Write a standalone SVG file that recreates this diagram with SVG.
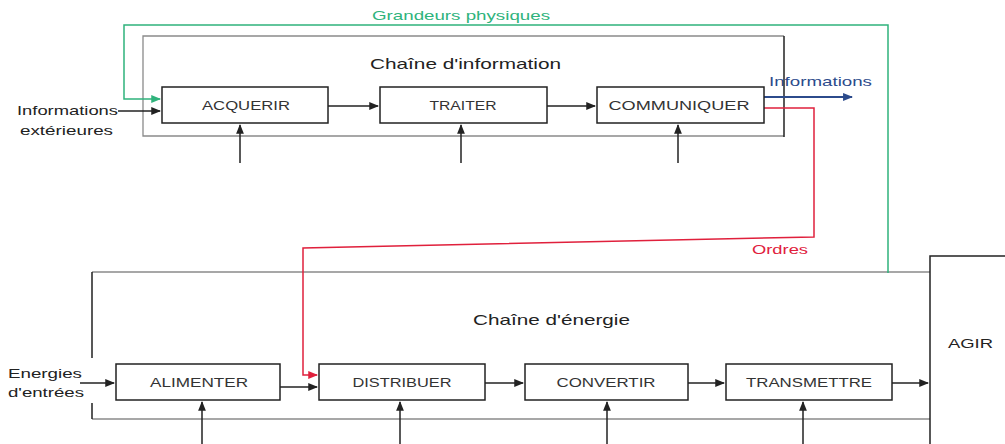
<svg xmlns="http://www.w3.org/2000/svg" width="1005" height="444" viewBox="0 0 1005 444">
<defs>
<style>
text{font-family:"Liberation Sans",Arial,sans-serif;}
.box{fill:#fff;stroke:#222;stroke-width:1.5;}
.bl{font-size:13.5px;fill:#333;text-anchor:middle;}
.lb{font-size:13px;fill:#222;}
.frame{fill:none;stroke:#8a8a8a;stroke-width:1.3;}
.blk{fill:none;stroke:#222;stroke-width:1.5;}
.ar{fill:none;stroke:#222;stroke-width:1.5;marker-end:url(#mb);}
.g{fill:none;stroke:#2fb37c;stroke-width:1.5;}
.r{fill:none;stroke:#e0203c;stroke-width:1.5;}
.b{fill:none;stroke:#2c4b8c;stroke-width:1.8;}
</style>
<marker id="mb" viewBox="0 0 10 8" refX="9" refY="4" markerWidth="6.5" markerHeight="5.2" orient="auto" markerUnits="strokeWidth"><path d="M0,0L10,4L0,8z" fill="#222"/></marker>
<marker id="mg" viewBox="0 0 10 8" refX="9" refY="4" markerWidth="6.5" markerHeight="5.2" orient="auto" markerUnits="strokeWidth"><path d="M0,0L10,4L0,8z" fill="#2fb37c"/></marker>
<marker id="mr" viewBox="0 0 10 8" refX="9" refY="4" markerWidth="6.5" markerHeight="5.2" orient="auto" markerUnits="strokeWidth"><path d="M0,0L10,4L0,8z" fill="#e0203c"/></marker>
<marker id="mbl" viewBox="0 0 10 8" refX="9" refY="4" markerWidth="5.5" markerHeight="4.4" orient="auto" markerUnits="strokeWidth"><path d="M0,0L10,4L0,8z" fill="#2c4b8c"/></marker>
</defs>
<rect width="1005" height="444" fill="#fff"/>

<g id="chaine-information">
<path class="frame" d="M784,36H143V136H784"/>
<path class="blk" d="M784,36V137"/>
<text x="370" y="69" font-size="15" fill="#222" textLength="191" lengthAdjust="spacingAndGlyphs">Chaîne d'information</text>
</g>

<g id="chaine-energie">
<path class="frame" d="M92,272H930M92,419H930"/>
<path class="blk" d="M92,272V358M92,403V419"/>
<text x="473" y="325" font-size="15" fill="#222" textLength="157" lengthAdjust="spacingAndGlyphs">Chaîne d'énergie</text>
</g>

<g id="connectors">
<path class="g" d="M888,273V25H124V99H160" marker-end="url(#mg)"/>
<path class="ar" d="M118,111H160"/>
<path class="ar" d="M328,106H378"/>
<path class="ar" d="M547,106H595"/>
<path class="b" d="M764,97H852" marker-end="url(#mbl)"/>
<path class="r" d="M764,108H814V237L303,248V375H317" marker-end="url(#mr)"/>
<path class="ar" d="M240,163V125"/>
<path class="ar" d="M461,163V125"/>
<path class="ar" d="M678,163V125"/>
<path class="ar" d="M80,383H114"/>
<path class="ar" d="M280,387H317"/>
<path class="ar" d="M485,383H523"/>
<path class="ar" d="M688,383H724"/>
<path class="ar" d="M892,383H928"/>
<path class="ar" d="M202,444V402"/>
<path class="ar" d="M400,444V402"/>
<path class="ar" d="M607,444V402"/>
<path class="ar" d="M803,444V402"/>
</g>

<g id="labels">
<text x="372" y="20" font-size="13" fill="#2fb37c" textLength="178" lengthAdjust="spacingAndGlyphs">Grandeurs physiques</text>
<text x="769" y="86" font-size="13" fill="#2c4b8c" textLength="103" lengthAdjust="spacingAndGlyphs">Informations</text>
<text x="752" y="254" font-size="13" fill="#e0203c" textLength="56" lengthAdjust="spacingAndGlyphs">Ordres</text>
<text class="lb" x="17" y="115" textLength="101" lengthAdjust="spacingAndGlyphs">Informations</text>
<text class="lb" x="20" y="135" textLength="93" lengthAdjust="spacingAndGlyphs">extérieures</text>
<text class="lb" x="8" y="378" textLength="74" lengthAdjust="spacingAndGlyphs">Energies</text>
<text class="lb" x="8" y="397" textLength="76" lengthAdjust="spacingAndGlyphs">d'entrées</text>
</g>

<g id="acquerir"><rect class="box" x="162" y="87" width="166" height="36"/><text class="bl" x="246" y="110" textLength="88" lengthAdjust="spacingAndGlyphs">ACQUERIR</text></g>
<g id="traiter"><rect class="box" x="380" y="87" width="167" height="36"/><text class="bl" x="463" y="110" textLength="67" lengthAdjust="spacingAndGlyphs">TRAITER</text></g>
<g id="communiquer"><rect class="box" x="597" y="87" width="167" height="36"/><text class="bl" x="679" y="110" textLength="141" lengthAdjust="spacingAndGlyphs">COMMUNIQUER</text></g>

<g id="alimenter"><rect class="box" x="116" y="364" width="164" height="36"/><text class="bl" x="199" y="387" textLength="98" lengthAdjust="spacingAndGlyphs">ALIMENTER</text></g>
<g id="distribuer"><rect class="box" x="319" y="364" width="166" height="36"/><text class="bl" x="402" y="387" textLength="99" lengthAdjust="spacingAndGlyphs">DISTRIBUER</text></g>
<g id="convertir"><rect class="box" x="525" y="364" width="163" height="36"/><text class="bl" x="606" y="387" textLength="99" lengthAdjust="spacingAndGlyphs">CONVERTIR</text></g>
<g id="transmettre"><rect class="box" x="726" y="364" width="166" height="36"/><text class="bl" x="809" y="387" textLength="126" lengthAdjust="spacingAndGlyphs">TRANSMETTRE</text></g>

<g id="agir">
<path class="blk" d="M930,444V256H1005"/>
<text class="lb" x="948" y="348" textLength="45" lengthAdjust="spacingAndGlyphs">AGIR</text>
</g>
</svg>
